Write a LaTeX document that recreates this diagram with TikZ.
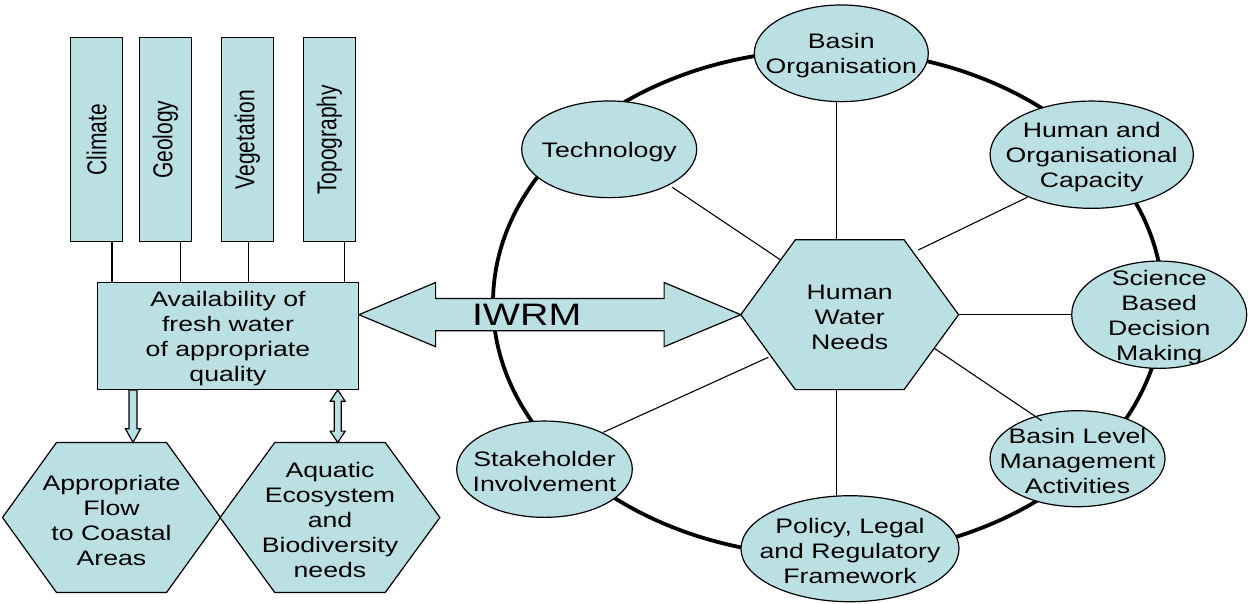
\documentclass[tikz,border=0pt]{standalone}
\usepackage{fontspec}
\setmainfont{Liberation Sans}[FakeStretch=1.27]
\newfontfamily\plainsans{Liberation Sans}
\usetikzlibrary{shapes.geometric,backgrounds}
\definecolor{fillc}{RGB}{186,224,227}
\newcommand\txtfont{\fontsize{21}{25}\selectfont}
\newcommand\iwrmfont{\fontsize{31}{36}\selectfont}
\newcommand\vtxt[1]{\rotatebox{90}{\scalebox{1}[1.3]{\plainsans\txtfont #1}}}
\begin{document}
\begin{tikzpicture}[x=1pt,y=-1pt,
  box/.style={draw=black, fill=fillc, line width=1.2pt, inner sep=0pt, align=center},
  ell/.style={ellipse, draw=black, fill=fillc, line width=1.2pt, inner sep=0pt},
  lbl/.style={align=center, inner sep=0pt, font=\txtfont, yshift=-2.5pt},
  hexn/.style={inner sep=0pt},
  hexpath/.style={draw=black, fill=fillc, line width=1.2pt},
  spoke/.style={draw=black, line width=1.1pt},
  ring/.style={draw=black, line width=3.8pt},
  link/.style={draw=black, line width=1.2pt},
  blk/.style={draw=black, fill=fillc, line width=1.2pt}]
\useasboundingbox (0,0) rectangle (1249,603);

% factor boxes
\node[box, minimum width=51.6pt, minimum height=204pt] (c1) at (96.5,139.7) {\vtxt{Climate}};
\node[box, minimum width=51.6pt, minimum height=204pt] (c2) at (165.3,139.7) {\vtxt{Geology}};
\node[box, minimum width=51.6pt, minimum height=204pt] (c3) at (247.3,139.7) {\vtxt{Vegetation}};
\node[box, minimum width=51.6pt, minimum height=204pt] (c4) at (329.3,139.7) {\vtxt{Topography}};

\node[box, minimum width=260.6pt, minimum height=106.6pt,
  label={[lbl]center:{Availability of\\fresh water\\of appropriate\\quality}}] (avail) at (228,336) {};

\draw[link] ([shift={(15.5,0)}]c1.south) -- ([shift={(-116,0)}]avail.north);
\draw[link] ([shift={(15,0)}]c2.south) -- ([shift={(-47.7,0)}]avail.north);
\draw[link] ([shift={(1.4,0)}]c3.south) -- ([shift={(20.7,0)}]avail.north);
\draw[link] ([shift={(15,0)}]c4.south) -- ([shift={(116.3,0)}]avail.north);

% hexagons (text nodes)
\node[hexn, minimum width=217.6pt, minimum height=149.6pt,
  label={[lbl]center:{Appropriate\\Flow\\to Coastal\\Areas}}] (hA) at (111.5,517.5) {};
\node[hexn, minimum width=219.4pt, minimum height=149.6pt,
  label={[lbl]center:{Aquatic\\Ecosystem\\and\\Biodiversity\\needs}}] (hB) at (330,517.5) {};
\node[hexn, minimum width=217.4pt, minimum height=149.4pt,
  label={[lbl]center:{Human\\Water\\Needs}}] (hex) at (849.7,314.7) {};

\begin{pgfonlayer}{background}
\draw[ring] (828,303) ellipse [x radius=335pt, y radius=253pt];
\foreach \h/\c in {hA/54, hB/54.7, hex/54.5}
  \draw[hexpath] (\h.west) -- ([xshift=\c pt]\h.north west) -- ([xshift=-\c pt]\h.north east)
    -- (\h.east) -- ([xshift=-\c pt]\h.south east) -- ([xshift=\c pt]\h.south west) -- cycle;
\end{pgfonlayer}

% ellipses
\node[ell, minimum width=174pt, minimum height=96.7pt, label={[lbl]center:{Basin\\Organisation}}] (bo) at (841.3,53.3) {};
\node[ell, minimum width=175pt, minimum height=96.7pt, label={[lbl]center:{Technology}}] (tech) at (609.2,149.3) {};
\node[ell, minimum width=203.3pt, minimum height=107.3pt, label={[lbl]center:{Human and\\Organisational\\Capacity}}] (hoc) at (1091.7,154.7) {};
\node[ell, minimum width=175pt, minimum height=107.3pt, label={[lbl]center:{Science\\Based\\Decision\\Making}}] (sci) at (1159.2,314.7) {};
\node[ell, minimum width=175pt, minimum height=96pt, label={[lbl]center:{Basin Level\\Management\\Activities}}] (bl) at (1077.5,458.7) {};
\node[ell, minimum width=218pt, minimum height=106pt, label={[lbl]center:{Policy, Legal\\and Regulatory\\Framework}}] (pol) at (850,548.7) {};
\node[ell, minimum width=175.6pt, minimum height=96.3pt, label={[lbl]center:{Stakeholder\\Involvement}}] (sh) at (544.5,469.2) {};

% spokes
\draw[spoke] ([shift={(-13,-74.7)}]hex.center) -- ([shift={(-4.6,48.4)}]bo.center);
\draw[spoke] ([shift={(-69,-54.7)}]hex.center) -- ([shift={(63.1,38)}]tech.center);
\draw[spoke] ([shift={(68.6,-64.7)}]hex.center) -- ([shift={(-64.4,42.6)}]hoc.center);
\draw[spoke] ([shift={(108.6,0)}]hex.center) -- ([shift={(-87.5,0)}]sci.center);
\draw[spoke] ([shift={(84.6,33.6)}]hex.center) -- ([shift={(-35.8,-38)}]bl.center);
\draw[spoke] ([shift={(-13,74.6)}]hex.center) -- ([shift={(-13.3,-53)}]pol.center);
\draw[spoke] ([shift={(-81.4,42.6)}]hex.center) -- ([shift={(58.8,-36.9)}]sh.center);

% block arrows
\draw[blk] ([shift={(-99,0)}]avail.south) -- ([shift={(17.5,-13.7)}]hA.north) -- ([shift={(14,-13.7)}]hA.north)
  -- ([shift={(21.5,0)}]hA.north) -- ([shift={(29,-13.7)}]hA.north) -- ([shift={(25.5,-13.7)}]hA.north)
  -- ([shift={(-91,0)}]avail.south) -- cycle;
\draw[blk] ([shift={(109.7,0)}]avail.south) -- ([shift={(117.2,11.4)}]avail.south) -- ([shift={(113.2,11.4)}]avail.south)
  -- ([shift={(11.2,-11.4)}]hB.north) -- ([shift={(15.2,-11.4)}]hB.north) -- ([shift={(7.7,0)}]hB.north)
  -- ([shift={(0.2,-11.4)}]hB.north) -- ([shift={(4.2,-11.4)}]hB.north)
  -- ([shift={(106.2,11.4)}]avail.south) -- ([shift={(102.2,11.4)}]avail.south) -- cycle;

\coordinate (iwL) at (avail.east |- hex.west);
\draw[blk] (iwL) -- ([shift={(76.7,-32.2)}]iwL) -- ([shift={(76.7,-16.3)}]iwL)
  -- ([shift={(-76.7,-16.3)}]hex.west) -- ([shift={(-76.7,-32.2)}]hex.west) -- (hex.west)
  -- ([shift={(-76.7,32)}]hex.west) -- ([shift={(-76.7,16)}]hex.west)
  -- ([shift={(76.7,16)}]iwL) -- ([shift={(76.7,32)}]iwL) -- cycle;
\node[font=\iwrmfont, inner sep=0pt] (iwrm) at (526.7,315) {IWRM};
\end{tikzpicture}
\end{document}
